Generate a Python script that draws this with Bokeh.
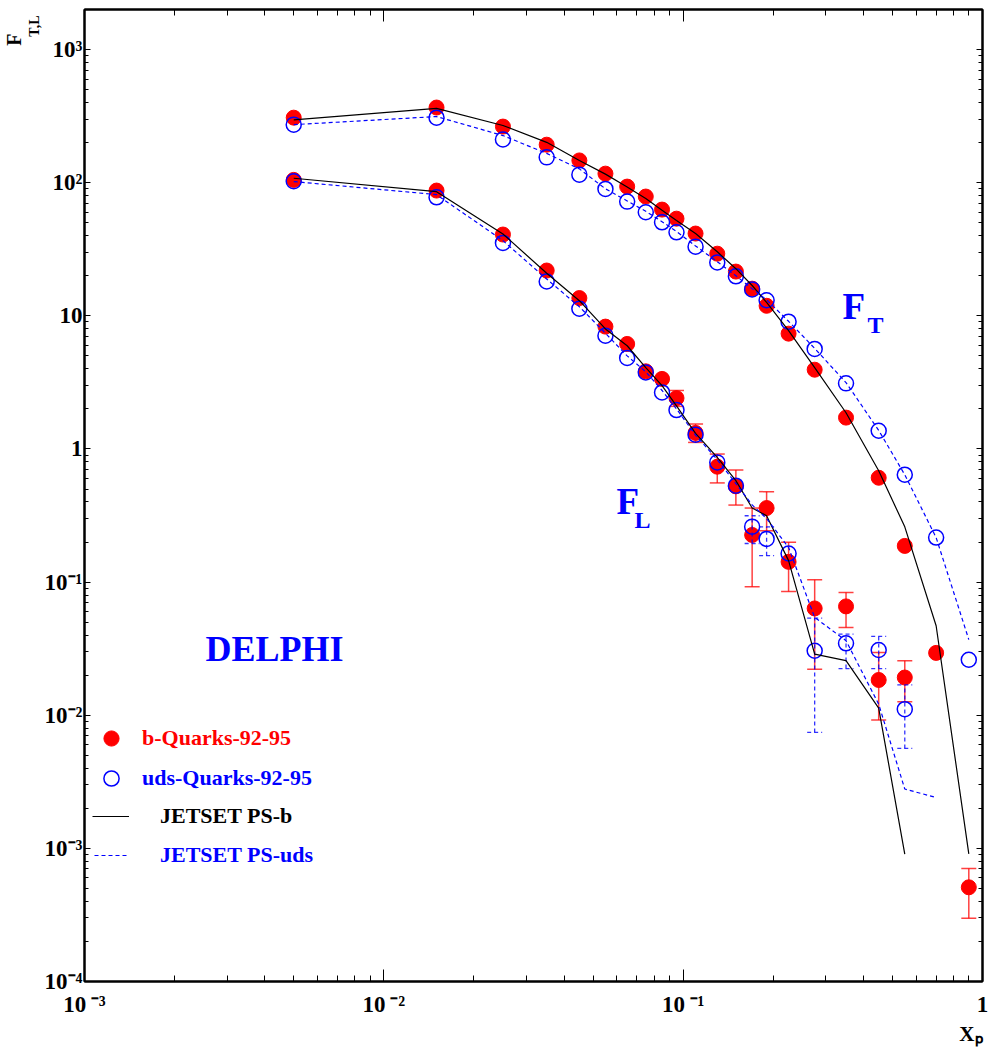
from bokeh.plotting import figure
from bokeh.models import (Range1d, LogAxis, FixedTicker, CustomJSTickFormatter, Label,
                          Legend, LegendItem, ColumnDataSource, Title)
from bokeh.embed import file_html
from bokeh.resources import INLINE

# ---------------- data ----------------
xp = [0.005, 0.015, 0.025, 0.035, 0.045, 0.055, 0.065, 0.075, 0.085, 0.095,
      0.11, 0.13, 0.15, 0.17, 0.19, 0.225, 0.275, 0.35, 0.45, 0.55, 0.7, 0.9]

# F_T
ft_b = [308, 367, 264, 193, 147, 117, 93.5, 78.7, 62.8, 53.7, 41.5, 29.3, 21.5, 16.0,
        11.9, 7.35, 3.94, 1.72, 0.608, 0.187, 0.0294, 5.1e-4]
ft_b_lo = [None] * 21 + [2.99e-4]
ft_b_hi = [None] * 21 + [7.06e-4]
ft_uds = [273, 308, 211, 155, 115, 89.8, 72.1, 60, 50.4, 42.4, 33.1, 25.2, 19.8, 15.8,
          13.1, 9.04, 5.64, 3.11, 1.37, 0.641, 0.216, 0.0261]
ft_jet_b = [296, 362, 269, 201, 147, 116, 93, 76, 62, 52, 41.5, 30.3, 22.6, 16.9,
            12.6, 7.74, 4.08, 1.87, 0.687, 0.26, 0.047, 9.1e-4]
ft_jet_uds = [273, 314, 226, 166, 127, 90, 73, 61, 51, 43, 33.5, 25.5, 20, 16,
              13.2, 9.1, 5.7, 3.15, 1.38, 0.64, 0.216, 0.037]

# F_L
fl_b = [105, 87.3, 40.8, 21.9, 13.6, 8.3, 6.15, 3.83, 3.36, 2.41, 1.32, 0.736, 0.524,
        0.226, 0.360, 0.142, 0.0634, 0.0657, 0.0184, 0.0192]
fl_b_lo = [None] * 9 + [2.09, 1.12, 0.556, 0.379, 0.0923, 0.243, 0.0851, 0.0222, 0.0457, 0.0092, 0.0126]
fl_b_hi = [None] * 9 + [2.75, 1.54, 0.916, 0.695, 0.360, 0.478, 0.199, 0.104, 0.0837, 0.0296, 0.0257]
fl_uds = [102.5, 77.7, 35.3, 18.1, 11.3, 7.1, 4.83, 3.76, 2.66, 1.96, 1.28, 0.793, 0.530,
          0.261, 0.211, 0.164, 0.0305, 0.0347, 0.0309, 0.0111]
fl_uds_lo = [None] * 13 + [0.195, 0.158, None, 0.00743, 0.0224, 0.0224, 0.00563]
fl_uds_hi = [None] * 13 + [0.315, 0.26, None, 0.0537, 0.0407, 0.0391, 0.0169]
fl_jet_b = [108, 85.7, 41.2, 20.9, 13.0, 7.97, 5.96, 4.08, 2.99, 2.11, 1.31, 0.865, 0.578,
            0.360, 0.315, 0.145, 0.0288, 0.0257, 0.0113, 9.06e-4]
fl_jet_uds = [102, 81.4, 36.7, 18.9, 11.7, 7.4, 5.0, 3.8, 2.75, 2.0, 1.27, 0.83, 0.55,
              0.38, 0.30, 0.182, 0.0543, 0.0363, 0.0121, 0.00279, 0.00241]

x_major = [1e-3, 1e-2, 1e-1, 1.0]
x_tick_base = ["10", "10", "10", "1"]
x_tick_exp = ["-3", "-2", "-1", ""]
y_major = [1e-4, 1e-3, 1e-2, 1e-1, 1.0, 10.0, 100.0, 1000.0]
y_tick_base = ["10", "10", "10", "10", "1", "10", "10", "10"]
y_tick_exp = ["-4", "-3", "-2", "-1", "", "", "2", "3"]

X_LO, X_HI = 1e-3, 1.0
Y_LO, Y_HI = 1e-4, 2000.0

RED = "#ff0000"
BLUE = "#0000ff"
FONT = "Liberation Serif"

SUP = {"-": "\u207b", "0": "\u2070", "1": "\u00b9", "2": "\u00b2", "3": "\u00b3",
       "4": "\u2074", "5": "\u2075", "6": "\u2076", "7": "\u2077", "8": "\u2078", "9": "\u2079"}


def tick_text(base, exp, gap):
    return base + (gap + "".join(SUP[c] for c in exp) if exp else "")


x_tick_labels = [tick_text(b, e, "\u2009") for b, e in zip(x_tick_base, x_tick_exp)]
y_tick_labels = [tick_text(b, e, "") for b, e in zip(y_tick_base, y_tick_exp)]

# ---------------- figure ----------------
p = figure(width=988, height=1050, x_axis_type="log", y_axis_type="log",
           x_range=Range1d(X_LO, X_HI), y_range=Range1d(Y_LO, Y_HI),
           output_backend="svg", toolbar_location=None,
           min_border_left=76, min_border_right=6, min_border_top=9, min_border_bottom=69)
p.grid.visible = False
p.outline_line_color = "black"
p.outline_line_width = 2
p.background_fill_color = "white"
p.border_fill_color = "white"

x_minor = [k * 10.0 ** e for e in (-3, -2, -1) for k in range(2, 10)]
y_minor = [k * 10.0 ** e for e in range(-4, 4) for k in range(2, 10) if k * 10.0 ** e < Y_HI]

FMT_CODE = """
for (let i = 0; i < tvals.length; i++) {
  if (Math.abs(Math.log10(tvals[i]) - Math.log10(tick)) < 1e-6) return tlabels[i];
}
return '';
"""


def style_axis(ax, major, minor, tin, tmin, labels=None, standoff=0):
    ax.ticker = FixedTicker(ticks=major, minor_ticks=minor)
    if labels is None:
        ax.formatter = CustomJSTickFormatter(code="return ''")
        ax.major_label_text_font_size = "0px"
        ax.major_label_standoff = 0
    else:
        ax.formatter = CustomJSTickFormatter(args=dict(tvals=major, tlabels=labels), code=FMT_CODE)
        ax.major_label_text_font = FONT
        ax.major_label_text_font_style = "bold"
        ax.major_label_text_font_size = "23px"
        ax.major_label_text_color = "black"
        ax.major_label_standoff = standoff
    ax.major_tick_in = tin
    ax.major_tick_out = 0
    ax.minor_tick_in = tmin
    ax.minor_tick_out = 0
    ax.axis_line_color = "black"
    ax.axis_line_width = 2
    ax.major_tick_line_color = "black"
    ax.minor_tick_line_color = "black"
    ax.major_tick_line_width = 1
    ax.minor_tick_line_width = 1


style_axis(p.xaxis[0], x_major, x_minor, 12, 6, labels=x_tick_labels, standoff=10)
style_axis(p.yaxis[0], y_major, y_minor, 6, 4, labels=y_tick_labels, standoff=2)
top_ax = LogAxis()
style_axis(top_ax, x_major, x_minor, 12, 6)
p.add_layout(top_ax, "above")
right_ax = LogAxis()
style_axis(right_ax, y_major, y_minor, 6, 4)
p.add_layout(right_ax, "right")

# axis titles (side-panel titles: F_{T,L} at the top left, X_p at the bottom right)
p.add_layout(Title(text="T,L", align="right", offset=6, standoff=0, text_font=FONT,
                   text_font_style="bold", text_font_size="14px", text_color="black"), "left")
p.add_layout(Title(text="F", align="right", offset=24, standoff=0, text_font=FONT,
                   text_font_style="bold", text_font_size="20px", text_color="black"), "left")
p.add_layout(Title(text="X\u209a", align="right", offset=0, standoff=0, text_font=FONT,
                   text_font_style="bold", text_font_size="21px", text_color="black"), "below")


def series(xs, ys):
    n = len(ys)
    return ColumnDataSource(dict(x=xs[:n], y=ys))


def errs(xs, lo, hi):
    d = dict(x=[], lo=[], hi=[])
    for xv, l, h in zip(xs, lo, hi):
        if l is not None and h is not None:
            d["x"].append(xv)
            d["lo"].append(l)
            d["hi"].append(h)
    return ColumnDataSource(d)


# error bars (red solid)
for lo, hi in ((ft_b_lo, ft_b_hi), (fl_b_lo, fl_b_hi)):
    s = errs(xp, lo, hi)
    p.segment(x0="x", y0="lo", x1="x", y1="hi", source=s, line_color=RED, line_width=1.5, line_alpha=0.75)
    p.scatter(x="x", y="lo", source=s, marker="dash", size=15, line_color=RED, line_width=1.5, line_alpha=0.75)
    p.scatter(x="x", y="hi", source=s, marker="dash", size=15, line_color=RED, line_width=1.5, line_alpha=0.75)

# b markers
r_b = None
for ys in (ft_b, fl_b):
    r_b = p.scatter(x="x", y="y", source=series(xp, ys), marker="circle", size=15,
                    fill_color=RED, line_color=RED, line_width=1)

# error bars (blue dashed)
s_ue = errs(xp, fl_uds_lo, fl_uds_hi)
p.segment(x0="x", y0="lo", x1="x", y1="hi", source=s_ue, line_color=BLUE, line_width=1.3,
          line_alpha=0.8, line_dash="4 3")
p.scatter(x="x", y="lo", source=s_ue, marker="dash", size=15, line_color=BLUE, line_width=1.3,
          line_alpha=0.8, line_dash="4 3")
p.scatter(x="x", y="hi", source=s_ue, marker="dash", size=15, line_color=BLUE, line_width=1.3,
          line_alpha=0.8, line_dash="4 3")

r_u = None
for ys in (ft_uds, fl_uds):
    r_u = p.scatter(x="x", y="y", source=series(xp, ys), marker="circle", size=15,
                    fill_color=None, line_color=BLUE, line_width=1.5)

r_jb = None
for ys in (ft_jet_b, fl_jet_b):
    r_jb = p.line(x="x", y="y", source=series(xp, ys), line_color="black", line_width=1.2)
r_ju = None
for ys in (ft_jet_uds, fl_jet_uds):
    r_ju = p.line(x="x", y="y", source=series(xp, ys), line_color=BLUE, line_width=1.2,
                  line_dash="4 3")


# ---------------- legends (one item each, for per-entry text colour) ----------------
def add_legend(label, renderer, color, loc, gw, gh, standoff):
    lg = Legend(items=[LegendItem(label=label, renderers=[renderer])], location=loc,
                glyph_width=gw, glyph_height=gh, label_height=gh, label_standoff=standoff,
                padding=0, margin=0, spacing=0, border_line_color=None,
                background_fill_alpha=0, label_text_font=FONT, label_text_font_style="bold",
                label_text_font_size="22px", label_text_color=color)
    p.add_layout(lg)


add_legend("b-Quarks-92-95", r_b, RED, (8, 224), 38, 38, 12)
add_legend("uds-Quarks-92-95", r_u, BLUE, (8, 184), 38, 38, 12)
add_legend("JETSET PS-b", r_jb, "black", (8, 150), 37, 30, 31)
add_legend("JETSET PS-uds", r_ju, BLUE, (10, 111), 35, 30, 31)


# ---------------- in-plot texts ----------------
def lab(text, xo, yo, size, color=BLUE, align="left"):
    p.add_layout(Label(x=X_LO, y=Y_LO, x_offset=xo, y_offset=yo, text=text, text_font=FONT,
                       text_font_style="bold", text_font_size=f"{size}px", text_color=color,
                       text_align=align, text_baseline="middle"))


lab("DELPHI", 190, 333, 36, align="center")
lab("F", 758, 675, 37)
lab("T", 783, 657, 24)
lab("F", 532, 480, 37)
lab("L", 550, 462, 24)

open("out.html", "w").write(file_html(p, INLINE))
